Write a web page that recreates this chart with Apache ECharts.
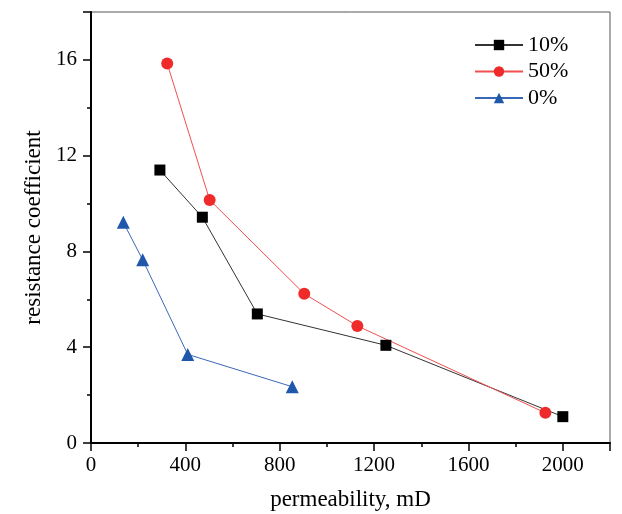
<!DOCTYPE html>
<html><head><meta charset="utf-8">
<script src="https://cdn.jsdelivr.net/npm/echarts@6/dist/echarts.min.js"></script>
<style>html,body{margin:0;padding:0;background:#fff}#c{width:622px;height:514px}</style>
</head><body><div id="c"></div>
<script>
const seriesNames = ['10%', '50%', '0%'];
const perm10 = [292, 472, 705, 1250, 2000];
const rc10 = [11.40, 9.43, 5.39, 4.08, 1.10];
const perm50 = [323, 503, 904, 1129, 1926];
const rc50 = [15.85, 10.15, 6.23, 4.89, 1.26];
const perm0 = [137, 219, 410, 853];
const rc0 = [9.22, 7.65, 3.70, 2.35];
const xTicks = [0, 400, 800, 1200, 1600, 2000];
const yTicks = [0, 4, 8, 12, 16];

const font = 'Liberation Serif';
const pair = (xs, ys) => xs.map((x, i) => [x, ys[i]]);
const chart = echarts.init(document.getElementById('c'), null, {renderer: 'canvas'});
chart.setOption({
  animation: false,
  backgroundColor: '#fff',
  grid: {left: 91, right: 12, top: 12, bottom: 71, show: true, borderColor: '#555', borderWidth: 1,
         containLabel: false, outerBoundsMode: 'none'},
  legend: {
    left: 469, top: 29, orient: 'vertical', itemGap: 4.5, itemWidth: 48, itemHeight: 13,
    textStyle: {fontFamily: font, fontSize: 22, color: '#000', padding: [0, 0, 0, 0]},
    data: seriesNames
  },
  xAxis: {
    type: 'value', min: 0, max: 2200, interval: 400,
    name: 'permeability, mD', nameLocation: 'middle', nameGap: 45,
    nameTextStyle: {fontFamily: font, fontSize: 23, color: '#000'},
    axisLine: {onZero: false, lineStyle: {color: '#000', width: 2}},
    axisTick: {inside: false, length: 8, lineStyle: {color: '#000', width: 1.5}},
    minorTick: {show: true, splitNumber: 2, length: 4, lineStyle: {color: '#000', width: 1.5}},
    splitLine: {show: false},
    axisLabel: {fontFamily: font, fontSize: 21, color: '#000', margin: 12,
      formatter: v => xTicks.includes(v) ? String(v) : ''}
  },
  yAxis: {
    type: 'value', min: 0, max: 18, interval: 4,
    name: 'resistance coefficient', nameLocation: 'middle', nameGap: 45, nameRotate: 90,
    nameTextStyle: {fontFamily: font, fontSize: 23, color: '#000'},
    axisLine: {onZero: false, lineStyle: {color: '#000', width: 2}},
    axisTick: {inside: false, length: 8, lineStyle: {color: '#000', width: 1.5}},
    minorTick: {show: true, splitNumber: 2, length: 4, lineStyle: {color: '#000', width: 1.5}},
    splitLine: {show: false},
    axisLabel: {fontFamily: font, fontSize: 21, color: '#000', margin: 14,
      formatter: v => yTicks.includes(v) ? String(v) : ''}
  },
  series: [
    {name: seriesNames[0], type: 'line', data: pair(perm10, rc10),
     symbol: 'rect', symbolSize: 11,
     itemStyle: {color: '#000'}, lineStyle: {color: '#333', width: 1}},
    {name: seriesNames[1], type: 'line', data: pair(perm50, rc50),
     symbol: 'circle', symbolSize: 12,
     itemStyle: {color: '#ee2a2a'}, lineStyle: {color: '#f05050', width: 1}},
    {name: seriesNames[2], type: 'line', data: pair(perm0, rc0),
     symbol: 'triangle', symbolSize: 13,
     itemStyle: {color: '#1f58aa'}, lineStyle: {color: '#3a68b8', width: 1}}
  ]
});
</script></body></html>
